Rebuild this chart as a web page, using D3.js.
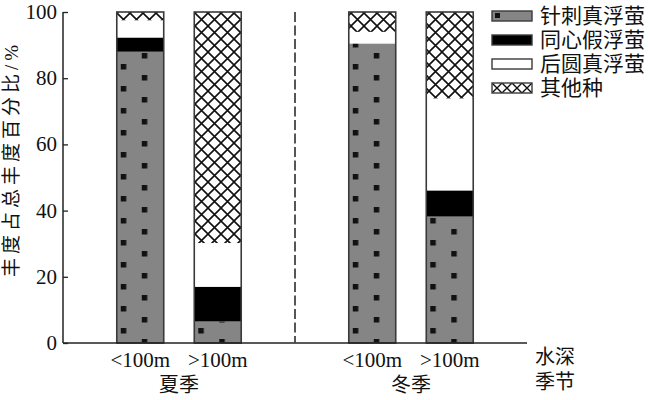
<!DOCTYPE html>
<html><head><meta charset="utf-8">
<script src="https://cdn.jsdelivr.net/npm/d3@7"></script>
<style>
body{margin:0;background:#fff;}
text{font-family:"Liberation Serif","Times New Roman","Tinos","Noto Sans CJK SC",serif;fill:#111;}
</style></head>
<body><svg id="c" width="650" height="400"></svg>
<script>
const seasons = ["夏季", "冬季"];
const depths = ["<100m", ">100m"];
const species = ["针刺真浮萤", "同心假浮萤", "后圆真浮萤", "其他种"];
// values per bar, order: 夏季<100m, 夏季>100m, 冬季<100m, 冬季>100m
const spinosa = [88, 6.5, 90.5, 38.2];
const concentric = [4.3, 10.5, 0, 7.9];
const postrotunda = [5.2, 13.2, 3.5, 27.8];
const others = [2.5, 69.8, 6, 26.1];
const yTicks = [0, 20, 40, 60, 80, 100];

const svg = d3.select("#c");
const x0 = 63, x1 = 527, yb = 343, yt = 12;

const xs = d3.scaleBand().domain(seasons).range([x0, x1]).padding(0);
const xd = d3.scaleBand().domain(depths).range([0, xs.bandwidth()]).paddingInner(0.394).paddingOuter(0.694);
const y = d3.scaleLinear().domain([0, 100]).range([yb, yt]);

const bars = [];
seasons.forEach((s, si) => depths.forEach((d, di) => {
  const i = si * 2 + di;
  bars.push({ s, d, i, vals: [spinosa[i], concentric[i], postrotunda[i], others[i]] });
}));

const defs = svg.append("defs");
const ch = defs.append("pattern").attr("id", "hatch").attr("patternUnits", "userSpaceOnUse")
  .attr("width", 13).attr("height", 13);
ch.append("rect").attr("width", 13).attr("height", 13).attr("fill", "#fff");
ch.append("path").attr("d", "M-1,-1L14,14M14,-1L-1,14").attr("stroke", "#111").attr("stroke-width", 1.6);
const chL = defs.append("pattern").attr("id", "hatchL").attr("patternUnits", "userSpaceOnUse")
  .attr("width", 10).attr("height", 10).attr("y", 0);
chL.append("rect").attr("width", 10).attr("height", 10).attr("fill", "#fff");
chL.append("path").attr("d", "M0,0L10,10M10,0L0,10").attr("stroke", "#111").attr("stroke-width", 1.4);

const gray = "#858585";
function dotPattern(id, tx, ty) {
  const p = defs.append("pattern").attr("id", id).attr("patternUnits", "userSpaceOnUse")
    .attr("width", 47).attr("height", 22)
    .attr("patternTransform", `translate(${tx},${ty})`);
  p.append("rect").attr("width", 47).attr("height", 22).attr("fill", gray);
  p.append("rect").attr("x", 4).attr("y", 7).attr("width", 5.5).attr("height", 5.5).attr("fill", "#111");
  p.append("rect").attr("x", 25).attr("y", 18).attr("width", 5.5).attr("height", 5.5).attr("fill", "#111");
  p.append("rect").attr("x", 25).attr("y", -4).attr("width", 5.5).attr("height", 5.5).attr("fill", "#111");
}

const fills = (b) => [`url(#dots${b.i})`, "#000", "#fff", "url(#hatch)"];

bars.forEach(b => {
  const bx = xs(b.s) + xd(b.d);
  dotPattern("dots" + b.i, bx, yb);
  let acc = 0;
  b.vals.forEach((v, k) => {
    if (v <= 0) { return; }
    svg.append("rect")
      .attr("x", bx).attr("width", xd.bandwidth())
      .attr("y", y(acc + v)).attr("height", y(acc) - y(acc + v))
      .attr("fill", fills(b)[k]);
    acc += v;
  });
  svg.append("rect").attr("x", bx).attr("width", xd.bandwidth())
    .attr("y", y(100)).attr("height", y(0) - y(100))
    .attr("fill", "none").attr("stroke", "#3a3a3a").attr("stroke-width", 1.6);
});

svg.append("line").attr("x1", x0).attr("x2", x0).attr("y1", y(100)).attr("y2", yb)
  .attr("stroke", "#222").attr("stroke-width", 1.5);
svg.append("line").attr("x1", x0).attr("x2", x1).attr("y1", yb).attr("y2", yb)
  .attr("stroke", "#222").attr("stroke-width", 1.5);
const yAxis = d3.axisRight(y).tickValues(yTicks).tickSize(5).tickFormat("");
const ga = svg.append("g").attr("transform", `translate(${x0},0)`).call(yAxis);
ga.select(".domain").remove();
ga.selectAll(".tick line").attr("stroke", "#222").attr("stroke-width", 1.3);
svg.selectAll(".ylab").data(yTicks).enter().append("text")
  .attr("x", x0 - 6).attr("y", d => y(d) + 7).attr("text-anchor", "end")
  .attr("font-size", 21).text(d => d);

svg.append("line").attr("x1", xs(seasons[1])).attr("x2", xs(seasons[1]))
  .attr("y1", y(100)).attr("y2", yb)
  .attr("stroke", "#444").attr("stroke-width", 1.8).attr("stroke-dasharray", "10,3.5");

bars.forEach(b => {
  svg.append("text").attr("x", xs(b.s) + xd(b.d) + xd.bandwidth() / 2).attr("y", 367)
    .attr("text-anchor", "middle").attr("font-size", 21).text(b.d);
});
seasons.forEach(s => {
  svg.append("text").attr("x", xs(s) + xs.bandwidth() / 2).attr("y", 392)
    .attr("text-anchor", "middle").attr("font-size", 20).text(s);
});
svg.append("text").attr("x", 535).attr("y", 364).attr("font-size", 20).text("水深");
svg.append("text").attr("x", 535).attr("y", 389).attr("font-size", 20).text("季节");

svg.append("text").attr("transform", "translate(18,159) rotate(-90)")
  .attr("text-anchor", "middle").attr("font-size", 19).attr("letter-spacing", 4)
  .text("丰度占总丰度百分比/%");

const lg = svg.append("g");
species.forEach((sp, k) => {
  const ly = 11 + k * 24;
  const g = lg.append("g").attr("transform", `translate(492,${ly})`);
  const f = ["#858585", "#000", "#fff", "url(#hatchL)"][k];
  g.append("rect").attr("width", 40).attr("height", 10).attr("fill", f)
    .attr("stroke", "#3a3a3a").attr("stroke-width", 1.4);
  if (k === 0) g.append("rect").attr("x", 3).attr("y", 2).attr("width", 5).attr("height", 5).attr("fill", "#111");
  g.append("text").attr("x", 48).attr("y", 12).attr("font-size", 21).text(sp);
});
</script></body></html>
